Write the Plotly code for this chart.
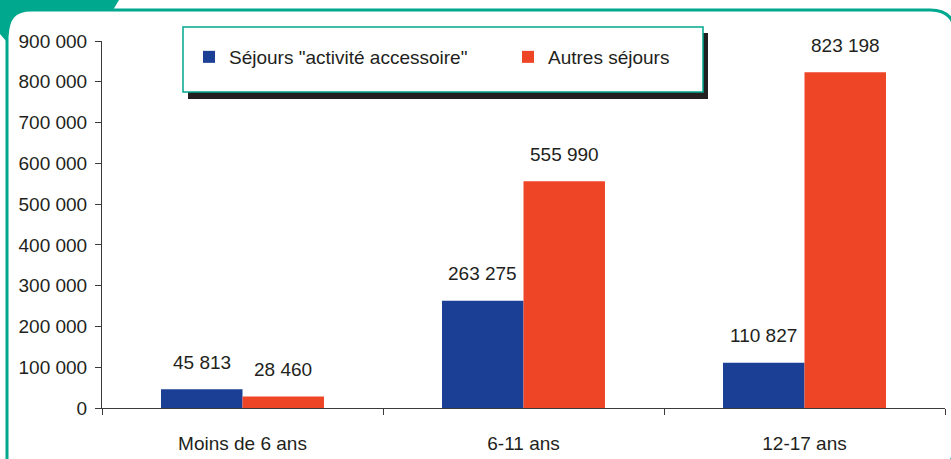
import plotly.graph_objects as go

categories = ["Moins de 6 ans", "6-11 ans", "12-17 ans"]
series_names = ['Séjours "activité accessoire"', "Autres séjours"]
accessoire = [45813, 263275, 110827]
autres = [28460, 555990, 823198]
y_ticks = [0, 100000, 200000, 300000, 400000, 500000, 600000, 700000, 800000, 900000]

BLUE = "#1B3F95"
RED = "#EF4527"
TEAL = "#00A88E"
TXT = "#231F20"
FONT = "Liberation Sans, Arial, sans-serif"

W, H = 951, 459
L, R, T, B = 102, 6, 41, 51
PW, PH = W - L - R, H - T - B
BARGAP = 0.42


def px(x):
    return (x - L) / PW


def py(y):
    return (T + PH - y) / PH


fig = go.Figure()
fig.add_trace(go.Bar(x=categories, y=accessoire, name=series_names[0],
                     marker=dict(color=BLUE, line=dict(width=0))))
fig.add_trace(go.Bar(x=categories, y=autres, name=series_names[1],
                     marker=dict(color=RED, line=dict(width=0))))

# data labels
half = (1 - BARGAP) / 4
annotations = []
for i, cat in enumerate(categories):
    for off, vals in ((-half, accessoire), (half, autres)):
        v = vals[i]
        annotations.append(dict(
            x=i + off, y=v, xref="x", yref="y",
            text=f"{v:,}".replace(",", " "),
            showarrow=False, yanchor="middle", yshift=27,
            font=dict(family=FONT, size=19, color=TXT)))

# decorative frame
frame = (f"M {px(7)},{py(475)} L {px(7)},{py(35)} Q {px(7)},{py(10)} {px(31)},{py(10)} "
         f"L {px(930)},{py(10)} Q {px(955)},{py(10)} {px(955)},{py(35)} "
         f"L {px(955)},{py(440)} Q {px(955)},{py(475)} {px(925)},{py(475)}")
tab = (f"M {px(0)},{py(0)} L {px(119)},{py(0)} L {px(113)},{py(10)} L {px(31)},{py(10)} "
       f"Q {px(11)},{py(10)} {px(9)},{py(32)} L {px(7)},{py(42)} L {px(0)},{py(34)} Z")

shapes = [
    dict(type="path", xref="paper", yref="paper", path=tab,
         fillcolor=TEAL, line=dict(width=0), layer="below"),
    dict(type="path", xref="paper", yref="paper", path=frame,
         line=dict(color=TEAL, width=3), layer="below"),
    # legend shadow and box
    dict(type="rect", xref="paper", yref="paper",
         x0=px(188), x1=px(708), y0=py(99), y1=py(33),
         fillcolor="#231F20", line=dict(width=0), layer="above"),
    dict(type="rect", xref="paper", yref="paper",
         x0=px(183), x1=px(703), y0=py(92), y1=py(27),
         fillcolor="white", line=dict(color=TEAL, width=1.5), layer="above"),
]

fig.update_layout(
    width=W, height=H,
    margin=dict(l=L, r=R, t=T, b=B, pad=0, autoexpand=False),
    paper_bgcolor="white", plot_bgcolor="white",
    barmode="group", bargap=BARGAP, bargroupgap=0,
    separators=", ",
    font=dict(family=FONT, size=19, color=TXT),
    showlegend=True,
    legend=dict(orientation="h", x=px(189), y=py(57), xanchor="left", yanchor="middle",
                bgcolor="rgba(0,0,0,0)", borderwidth=0, itemwidth=30,
                entrywidth=274, entrywidthmode="pixels",
                font=dict(family=FONT, size=19, color=TXT), itemclick=False),
    xaxis=dict(showline=True, linecolor="#3a3a3a", linewidth=1, ticks="outside",
               tickson="boundaries", ticklen=6, tickcolor="#3a3a3a",
               ticklabelstandoff=18, showgrid=False, zeroline=False,
               tickfont=dict(family=FONT, size=19, color=TXT)),
    yaxis=dict(range=[0, 900000], tickvals=y_ticks, tickformat=",d",
               showline=True, linecolor="#3a3a3a", linewidth=1, ticks="outside",
               ticklen=6, tickcolor="#3a3a3a", ticklabelstandoff=4,
               showgrid=False, zeroline=False,
               tickfont=dict(family=FONT, size=19, color=TXT)),
    annotations=annotations,
    shapes=shapes,
)

fig.write_html("out.html", config={"displayModeBar": False})

# remove the browser's default page margin so the figure fills the window
with open("out.html", encoding="utf-8") as f:
    html = f.read()
html = html.replace("<body>", '<body style="margin:0;padding:0;overflow:hidden">', 1)
with open("out.html", "w", encoding="utf-8") as f:
    f.write(html)
